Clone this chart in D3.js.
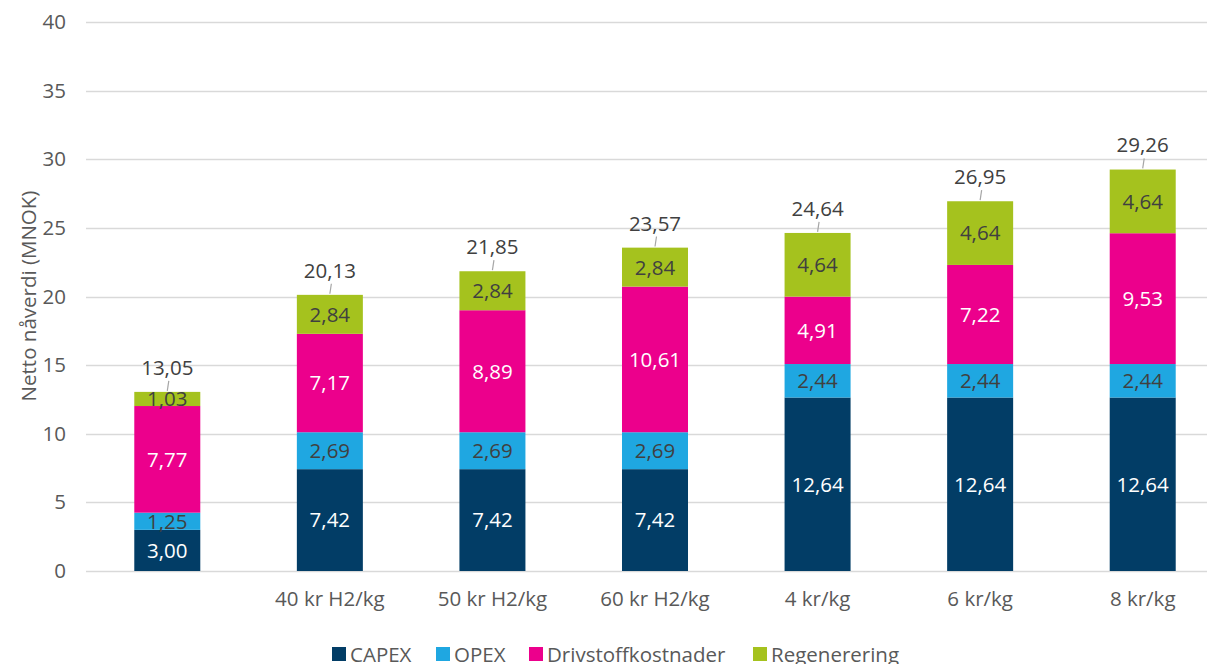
<!DOCTYPE html>
<html>
<head>
<meta charset="utf-8">
<script src="https://cdn.jsdelivr.net/npm/d3@7"></script>
<style>
  html, body { margin: 0; padding: 0; background: #fff; overflow: hidden; }
  svg { display: block; font-family: 'Open Sans', sans-serif; }
</style>
</head>
<body>
<svg width="1207" height="664"></svg>
<script>
// data
let categories = ['', '40 kr H2/kg', '50 kr H2/kg', '60 kr H2/kg', '4 kr/kg', '6 kr/kg', '8 kr/kg']
let capex = [3.00, 7.42, 7.42, 7.42, 12.64, 12.64, 12.64]
let opex = [1.25, 2.69, 2.69, 2.69, 2.44, 2.44, 2.44]
let drivstoff = [7.77, 7.17, 8.89, 10.61, 4.91, 7.22, 9.53]
let regen = [1.03, 2.84, 2.84, 2.84, 4.64, 4.64, 4.64]
let totals = [13.05, 20.13, 21.85, 23.57, 24.64, 26.95, 29.26]
let yTicks = [0, 5, 10, 15, 20, 25, 30, 35, 40]

let seriesNames = ['CAPEX', 'OPEX', 'Drivstoffkostnader', 'Regenerering']
let seriesValues = [capex, opex, drivstoff, regen]
let colors = ['#023d66', '#1fa7e1', '#ec008c', '#a5c21e']
let labelColors = ['#ffffff', '#404040', '#ffffff', '#404040']

let fs = 20.5
let fmt = v => d3.format('.2f')(v).replace('.', ',')

let svg = d3.select('svg')

let x = d3.scaleBand()
  .domain(d3.range(categories.length))
  .range([86, 1224])
  .padding(0)

let barW = x.bandwidth() * 0.406

let y = d3.scaleLinear()
  .domain([0, 40])
  .range([571, 22])

// gridlines
svg.append('g')
  .selectAll('line')
  .data(yTicks)
  .enter()
  .append('line')
  .attr('x1', 86)
  .attr('x2', 1224)
  .attr('y1', d => Math.round(y(d)) + 0.5)
  .attr('y2', d => Math.round(y(d)) + 0.5)
  .attr('stroke', '#d9d9d9')
  .attr('stroke-width', 1.3)

// y axis labels
let yAxis = d3.axisLeft(y).tickValues(yTicks).tickSize(0).tickPadding(0)
let yg = svg.append('g')
  .attr('transform', 'translate(66, 0)')
  .call(yAxis)
yg.select('.domain').remove()
yg.selectAll('.tick text')
  .attr('font-size', fs)
  .attr('font-family', "'Open Sans', sans-serif")
  .attr('fill', '#595959')

// axis title
svg.append('text')
  .attr('transform', 'translate(36, 296) rotate(-90)')
  .attr('text-anchor', 'middle')
  .attr('font-size', fs)
  .attr('fill', '#595959')
  .text('Netto nåverdi (MNOK)')

// x axis labels
let xAxis = d3.axisBottom(x).tickFormat(i => categories[i]).tickSize(0).tickPadding(0)
let xg = svg.append('g')
  .attr('transform', 'translate(0, 591)')
  .call(xAxis)
xg.select('.domain').remove()
xg.selectAll('.tick text')
  .attr('font-size', fs)
  .attr('font-family', "'Open Sans', sans-serif")
  .attr('fill', '#595959')

// stacked bars
let rows = categories.map((c, i) => {
  let r = { i: i }
  seriesNames.forEach((s, k) => { r[s] = seriesValues[k][i] })
  return r
})
let stack = d3.stack().keys(seriesNames)(rows)

stack.forEach((layer, k) => {
  let g = svg.append('g')
  g.selectAll('rect')
    .data(layer)
    .enter()
    .append('rect')
    .attr('x', d => x(d.data.i) + (x.bandwidth() - barW) / 2)
    .attr('width', barW)
    .attr('y', d => y(d[1]))
    .attr('height', d => y(d[0]) - y(d[1]))
    .attr('fill', colors[k])
  g.selectAll('text')
    .data(layer)
    .enter()
    .append('text')
    .attr('x', d => x(d.data.i) + x.bandwidth() / 2)
    .attr('y', d => (y(d[0]) + y(d[1])) / 2)
    .attr('dy', '0.36em')
    .attr('text-anchor', 'middle')
    .attr('font-size', fs)
    .attr('fill', labelColors[k])
    .text(d => fmt(d.data[seriesNames[k]]))
})

// totals with leader lines
let tg = svg.append('g')
tg.selectAll('line')
  .data(totals)
  .enter()
  .append('line')
  .attr('x1', (d, i) => x(i) + x.bandwidth() / 2 + 1.5)
  .attr('x2', (d, i) => x(i) + x.bandwidth() / 2)
  .attr('y1', d => y(d) - 11)
  .attr('y2', d => y(d) - 1)
  .attr('stroke', '#a6a6a6')
  .attr('stroke-width', 1.2)
tg.selectAll('text')
  .data(totals)
  .enter()
  .append('text')
  .attr('x', (d, i) => x(i) + x.bandwidth() / 2)
  .attr('y', d => y(d) - 17)
  .attr('text-anchor', 'middle')
  .attr('font-size', fs)
  .attr('fill', '#404040')
  .text(d => fmt(d))

// legend
let legendX = [332, 436, 529, 753]
let lg = svg.append('g')
seriesNames.forEach((s, k) => {
  lg.append('rect')
    .attr('x', legendX[k])
    .attr('y', 647)
    .attr('width', 14)
    .attr('height', 14)
    .attr('fill', colors[k])
  lg.append('text')
    .attr('x', legendX[k] + 18)
    .attr('y', 662)
    .attr('font-size', fs)
    .attr('fill', '#595959')
    .text(s)
})
</script>
</body>
</html>
